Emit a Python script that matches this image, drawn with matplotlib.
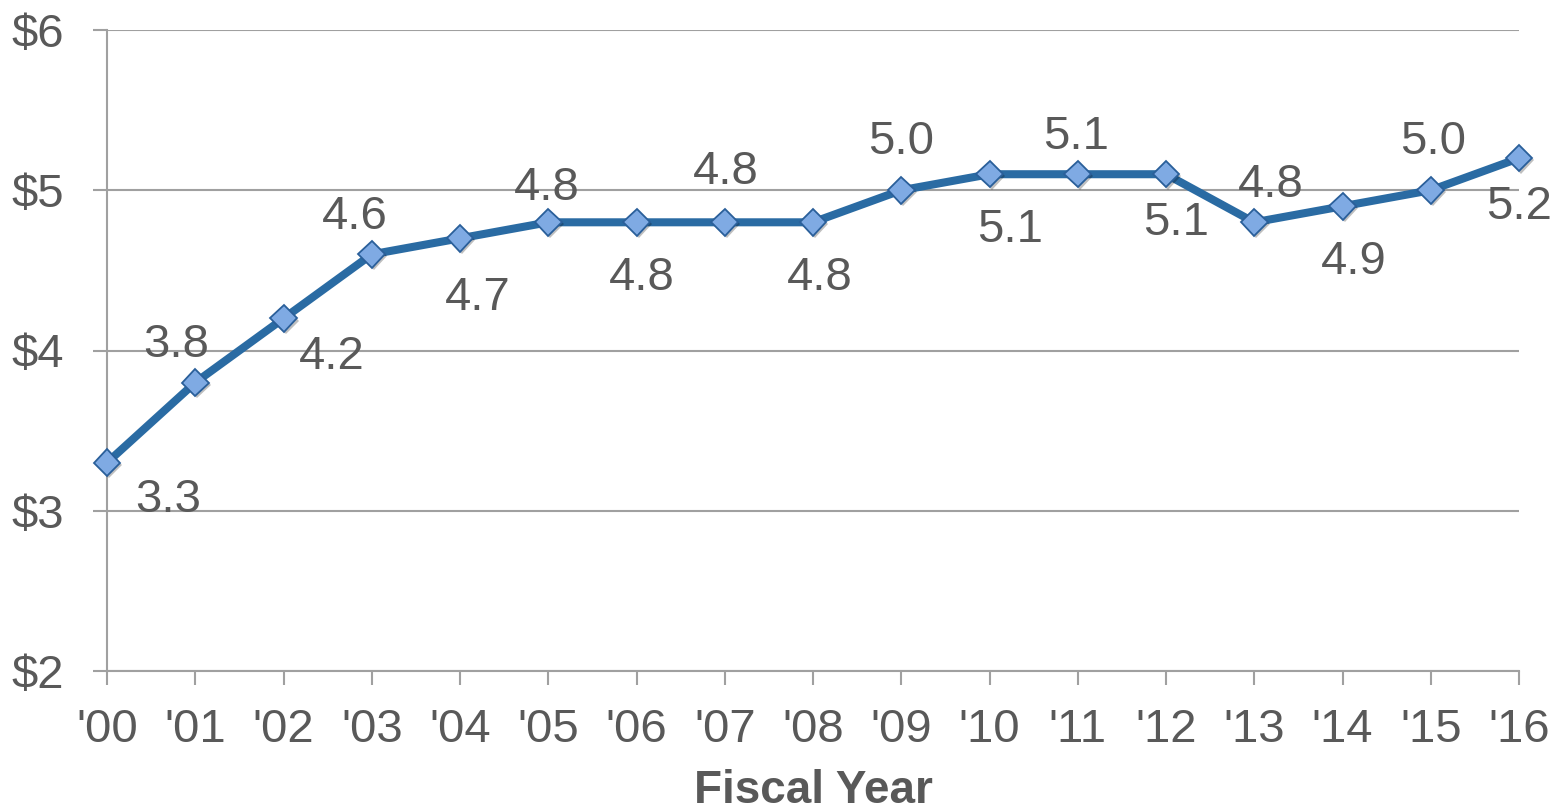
import matplotlib
matplotlib.use("Agg")
import matplotlib.pyplot as plt
import matplotlib.patheffects as pe

# Fiscal years and spending (billions of dollars)
years = ["'00", "'01", "'02", "'03", "'04", "'05", "'06", "'07", "'08",
         "'09", "'10", "'11", "'12", "'13", "'14", "'15", "'16"]
values = [3.3, 3.8, 4.2, 4.6, 4.7, 4.8, 4.8, 4.8, 4.8,
          5.0, 5.1, 5.1, 5.1, 4.8, 4.9, 5.0, 5.2]
y_ticks = [2, 3, 4, 5, 6]
y_labels = ["$2", "$3", "$4", "$5", "$6"]

# label placement relative to each point, in points (dx, dy)
label_offsets = [(44, -27), (-14, 27), (35, -28), (-12, 27), (13, -43),
                 (-1, 25), (4, -40), (1, 36), (5, -40), (0, 35),
                 (15, -40), (-1, 27), (7, -35), (12, 27), (8, -40),
                 (2, 35), (0, -35)]

TEXT = "#595959"
LINE = "#2A6BA3"
GRID = "#A0A0A0"

plt.rcParams["font.family"] = ["Liberation Sans", "DejaVu Sans"]

fig = plt.figure(figsize=(15.66, 8.11), dpi=100)
ax = fig.add_axes([107 / 1566, 1 - 671 / 811, (1519 - 107) / 1566, (671 - 30) / 811])

x = list(range(len(years)))
ax.plot(x, values, color=LINE, linewidth=5.8, zorder=3, solid_capstyle="round",
        clip_on=False)
ax.plot(x, values, linestyle="none", marker="D", markersize=13.5,
        markerfacecolor="#7FAAE3", markeredgecolor="#2A5F9A", markeredgewidth=1.3,
        zorder=4, clip_on=False,
        path_effects=[pe.SimplePatchShadow(offset=(1.5, -1.5), shadow_rgbFace="black", alpha=0.25),
                      pe.Normal()])

for xi, v, (dx, dy) in zip(x, values, label_offsets):
    ax.annotate(f"{v:.1f}", (xi, v), xytext=(dx, dy), textcoords="offset points",
                ha="center", va="center", fontsize=34, color=TEXT, zorder=5)

ax.set_xlim(0, len(years) - 1)
ax.set_ylim(2, 6)
ax.set_xticks(x)
ax.set_xticklabels(years)
ax.set_yticks(y_ticks)
ax.set_yticklabels(y_labels)

ax.yaxis.grid(True, color=GRID, linewidth=1.5, zorder=1)
ax.set_axisbelow(True)
for side in ("top", "right"):
    ax.spines[side].set_visible(False)
for side in ("left", "bottom"):
    ax.spines[side].set_color(GRID)
    ax.spines[side].set_linewidth(1.5)
    ax.spines[side].set_zorder(2)

ax.tick_params(axis="both", colors=GRID, width=1.5, length=10, labelcolor=TEXT,
               labelsize=34)
ax.tick_params(axis="y", pad=21)
ax.tick_params(axis="x", pad=17)

ax.set_xlabel("Fiscal Year", fontsize=33, fontweight="bold", color=TEXT, labelpad=12)

fig.savefig("out.png", dpi=100, facecolor="white")
